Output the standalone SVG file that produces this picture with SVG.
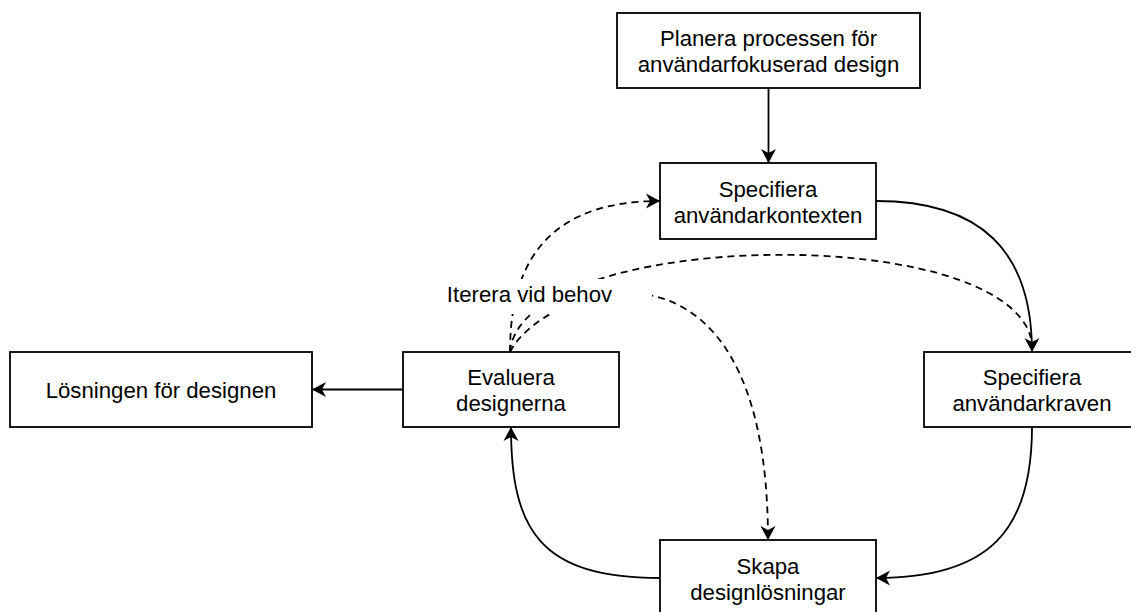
<svg xmlns="http://www.w3.org/2000/svg" width="1131" height="612" viewBox="0 0 1131 612">
<style>
.box{fill:#ffffff;stroke:#000000;stroke-width:1.8}
.t{font-family:"Liberation Sans",Arial,Helvetica,sans-serif;font-size:22.2px;fill:#000000;text-anchor:middle}
.e{fill:none;stroke:#000000;stroke-width:1.8}
.d{stroke-dasharray:7 5}
</style>
<defs>
<marker id="arr" markerUnits="userSpaceOnUse" markerWidth="20" markerHeight="20" viewBox="-16 -10 20 20" refX="0" refY="0" orient="auto" overflow="visible">
<path d="M0,0 L-14,-7.5 L-10,0 L-14,7.5 Z" fill="#000000" stroke="none"/>
</marker>
</defs>
<rect width="1131" height="612" fill="#ffffff"/>
<g id="connectors">
<path class="e" d="M768.5,88 L768.5,163" marker-end="url(#arr)"/>
<path class="e" d="M876,201 C980,201 1032,250 1032,352" marker-end="url(#arr)"/>
<path class="e" d="M1032,427 C1032,530 990,578 876,578" marker-end="url(#arr)"/>
<path class="e" d="M660,578 C540,578 511,530 511,427" marker-end="url(#arr)"/>
<path class="e" d="M403,389.5 L312,389.5" marker-end="url(#arr)"/>
<path class="e d" d="M510,352 C510,250 560,201 660,201" marker-end="url(#arr)"/>
<path class="e d" d="M510,352 C520,230 1000,220 1031,338"/>
<path class="e d" d="M510,352 C540,290 768,200 768,540" marker-end="url(#arr)"/>
</g>
<g id="label-iterera">
<rect x="440" y="279" width="212" height="35" fill="#ffffff"/>
<text class="t" x="529.5" y="302">Iterera vid behov</text>
</g>
<g id="node-planera">
<rect class="box" x="617" y="13" width="303" height="75"/>
<text class="t" x="768.5" y="46">Planera processen för</text>
<text class="t" x="768.5" y="72">användarfokuserad design</text>
</g>
<g id="node-kontext">
<rect class="box" x="660" y="163" width="216" height="76"/>
<text class="t" x="768" y="196.5">Specifiera</text>
<text class="t" x="768" y="222.5">användarkontexten</text>
</g>
<g id="node-kraven">
<rect class="box" x="924" y="352" width="216" height="75"/>
<text class="t" x="1032" y="385">Specifiera</text>
<text class="t" x="1032" y="411">användarkraven</text>
</g>
<g id="node-skapa">
<rect class="box" x="660" y="540" width="216" height="76"/>
<text class="t" x="768" y="573.5">Skapa</text>
<text class="t" x="768" y="599.5">designlösningar</text>
</g>
<g id="node-evaluera">
<rect class="box" x="403" y="352" width="216" height="75"/>
<text class="t" x="511" y="385">Evaluera</text>
<text class="t" x="511" y="411">designerna</text>
</g>
<g id="node-losningen">
<rect class="box" x="10" y="352" width="302" height="75"/>
<text class="t" x="161" y="397.5">Lösningen för designen</text>
</g>
</svg>
